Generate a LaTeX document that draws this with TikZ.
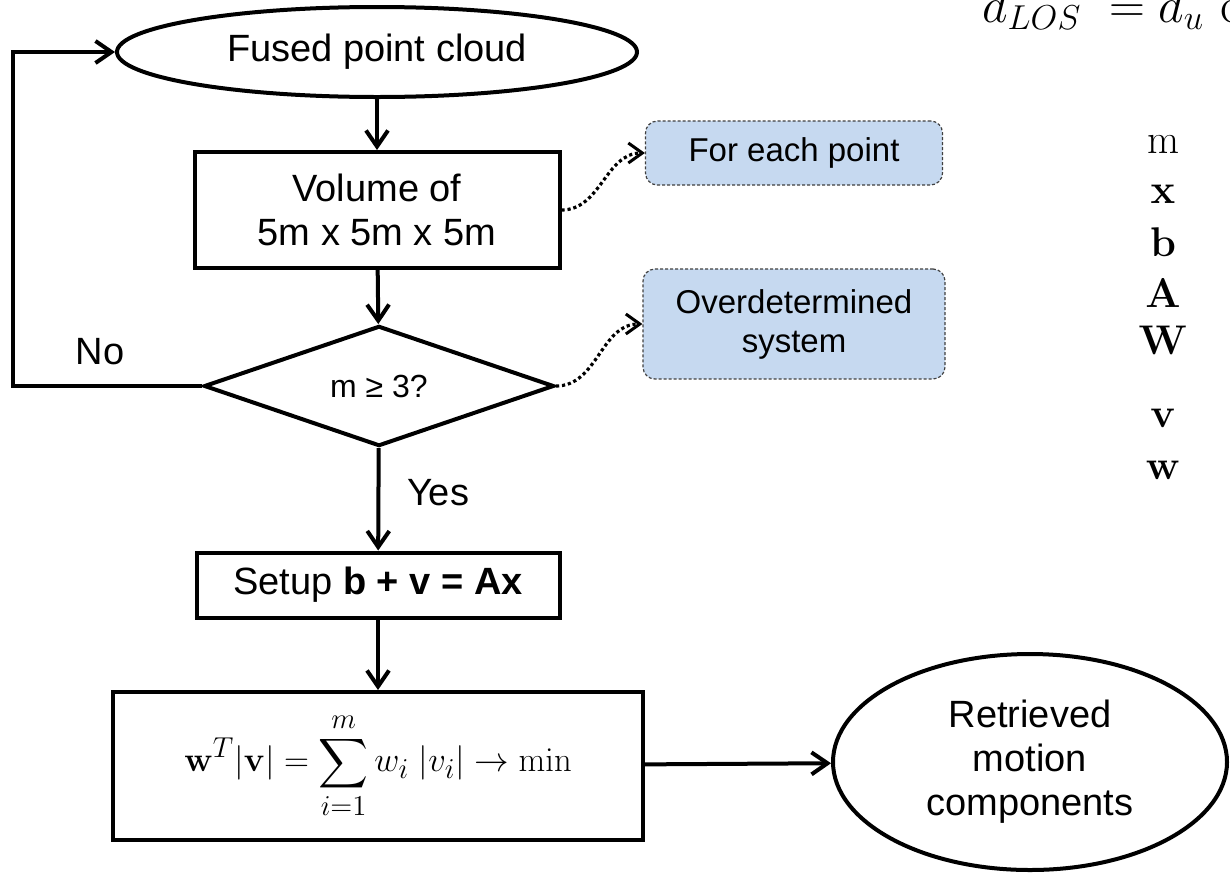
\documentclass[tikz,border=0pt]{standalone}
\usepackage{amsmath}
\usepackage[no-math]{fontspec}
\setmainfont{Liberation Sans}
\usetikzlibrary{shapes.geometric,arrows.meta}
\definecolor{notefill}{RGB}{198,217,240}
\begin{document}
\begin{tikzpicture}[x=0.5pt,y=-0.5pt,
  flow/.style={line width=2pt,-{Straight Barb[length=8pt,width=11pt,line width=2pt]}},
  hint/.style={line width=1.6pt,dash pattern=on 1.6pt off 1.4pt,-{Straight Barb[length=7pt,width=10pt,line width=1.5pt]}},
  box/.style={draw,line width=2pt,inner sep=0pt,align=center,font=\fontsize{19}{22}\selectfont},
  note/.style={draw=black!75,dash pattern=on 1.5pt off 1pt,line width=0.6pt,fill=notefill,rounded corners=6pt,inner sep=0pt,align=center,font=\fontsize{16.5}{19.5}\selectfont},
  sym/.style={anchor=base,inner sep=0pt,font=\fontsize{20}{24}\selectfont}]
\useasboundingbox (0,0) rectangle (1230,873);
\clip (0,0) rectangle (1230,873);

% flow chart
\node[box,ellipse,minimum width=260pt,minimum height=45pt] (fused) at (377,52) {Fused point cloud};
\node[box,minimum width=182.5pt,minimum height=58pt] (volume) at (377,210) {Volume of\\5m x 5m x 5m};
\node[box,diamond,minimum width=175pt,minimum height=57.5pt,font=\fontsize{16}{19}\selectfont] (check) at (379,386) {m ≥ 3?};
\node[box,minimum width=181.5pt,minimum height=32.5pt] (setup) at (378,585) {Setup \textbf{b + v = Ax}};
\node[box,minimum width=265pt,minimum height=74pt,font=\fontsize{19}{23}\selectfont] (minimize) at (378,766)
  {$\displaystyle \mathbf{w}^T|\mathbf{v}| = \sum_{i=1}^{m} w_i\;|v_i| \rightarrow \min$};
\node[box,ellipse,minimum width=197pt,minimum height=108pt] (retrieved) at (1030,762) {Retrieved\\motion\\components};

% notes
\node[note,minimum width=148.5pt,minimum height=32pt] (foreach) at (794,153) {For each point};
\node[note,minimum width=151pt,minimum height=55pt] (overdet) at (794,324) {Overdetermined\\system};

% labels
\node[font=\fontsize{19}{22}\selectfont] (nolabel) at (100,352) {No};
\node[font=\fontsize{19}{22}\selectfont] (yeslabel) at (438,493) {Yes};

% equation and symbols
\node[anchor=base west,inner sep=0pt,font=\fontsize{27}{32}\selectfont] (losrel) at (982,22) {$d_{LOS}\;= d_u\,\cos$};
\node[sym] (symm) at (1163,153) {$\mathrm{m}$};
\node[sym] (symx) at (1163,203) {$\mathbf{x}$};
\node[sym] (symb) at (1163,256) {$\mathbf{b}$};
\node[sym] (symA) at (1163,307) {$\mathbf{A}$};
\node[sym] (symW) at (1163,354) {$\mathbf{W}$};
\node[sym] (symv) at (1163,427) {$\mathbf{v}$};
\node[sym] (symw) at (1163,479) {$\mathbf{w}$};

% connectors
\draw[flow] (fused) -- (volume);
\draw[flow] (volume) -- (check);
\draw[flow] (check) -- (setup);
\draw[flow] (setup) -- (minimize);
\draw[flow] (minimize) -- (retrieved);
\draw[flow] (check.west) -- ++(-189,0) |- (fused.west);
\draw[hint] (volume.east) to[out=0,in=180] (foreach.west);
\draw[hint] (check.east) to[out=0,in=180] (overdet.west);
\end{tikzpicture}
\end{document}
